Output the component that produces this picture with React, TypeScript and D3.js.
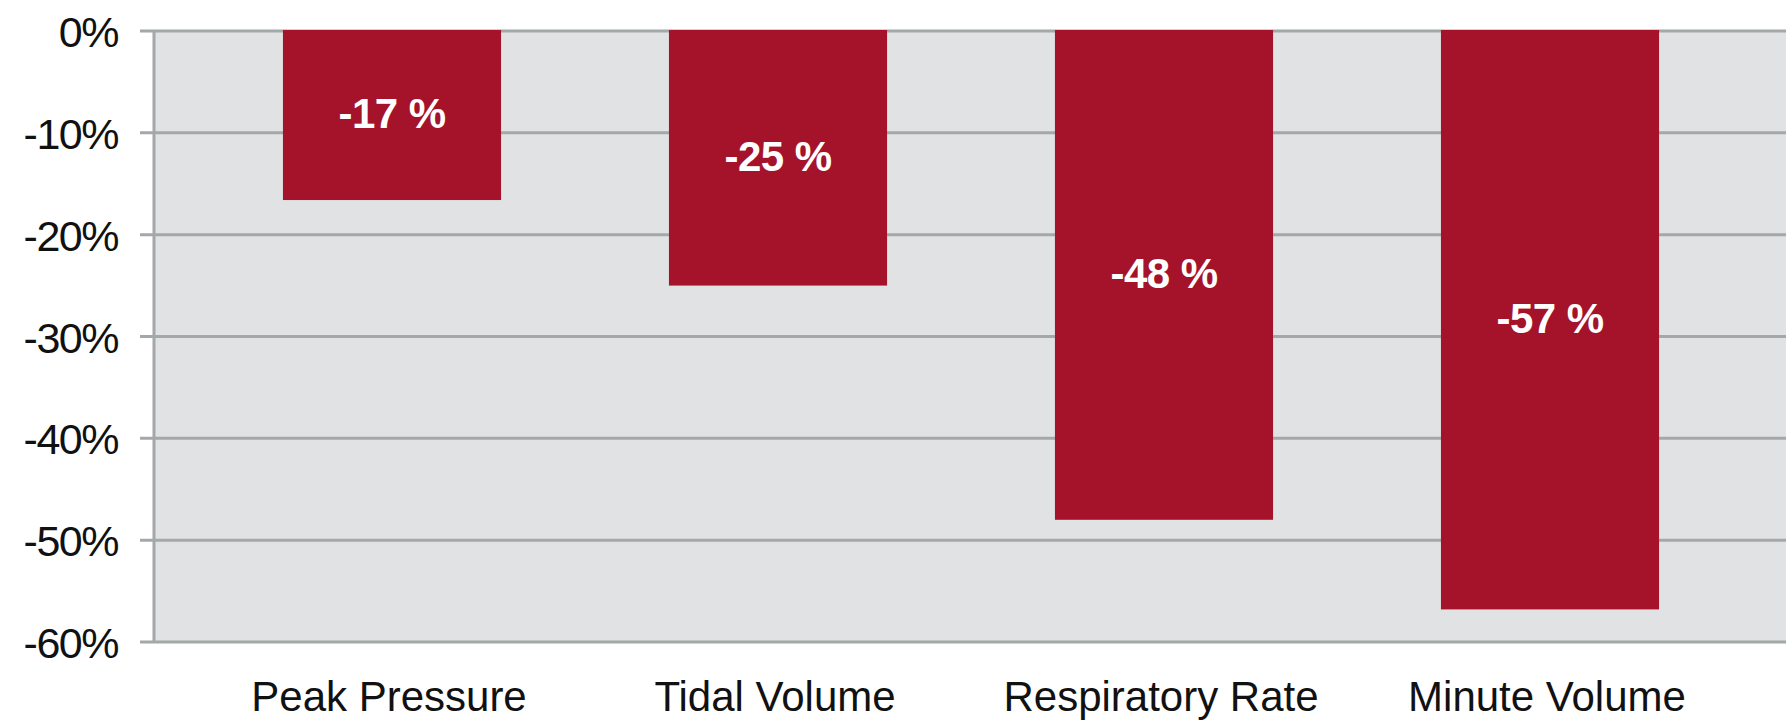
import React from "react";
import * as d3 from "d3";

const categories = ["Peak Pressure", "Tidal Volume", "Respiratory Rate", "Minute Volume"];
const values = [-16.6, -25, -48, -56.8];
const valueLabels = ["-17 %", "-25 %", "-48 %", "-57 %"];
const yTicks = [0, -10, -20, -30, -40, -50, -60];

const W = 1786;
const H = 721;
const FONT = "'Liberation Sans', Arial, Helvetica, sans-serif";

export default function App() {
  const axisX = 154;
  const y = d3.scaleLinear().domain([0, -60]).range([31, 642]);
  const x = d3
    .scaleBand<string>()
    .domain(categories)
    .range([199, 1743])
    .paddingInner(0.435)
    .paddingOuter(0.2175);

  return (
    <svg
      width={W}
      height={H}
      style={{ position: "absolute", left: 0, top: 0, background: "#fff" }}
    >
      <rect x={axisX} y={y(0)} width={W - axisX} height={y(-60) - y(0)} fill="#e1e2e3" />
      {yTicks.map((t) => (
        <g key={t}>
          <line x1={140} x2={W} y1={y(t)} y2={y(t)} stroke="#a3a8a8" strokeWidth={3} />
          <text
            x={118}
            y={y(t) + 1}
            textAnchor="end"
            dominantBaseline="central"
            fontFamily={FONT}
            fontSize={43}
            letterSpacing={-1.5}
            fill="#111"
          >
            {`${t}%`}
          </text>
        </g>
      ))}
      <line x1={axisX} x2={axisX} y1={y(0)} y2={y(-60)} stroke="#a3a8a8" strokeWidth={3} />
      {categories.map((c, i) => {
        const bx = x(c)!;
        const bw = x.bandwidth();
        const y0 = y(0);
        const y1 = y(values[i]);
        return (
          <g key={c}>
            <rect x={bx} y={y0 - 1} width={bw} height={y1 - y0 + 1} fill="#a5132b" />
            <text
              x={bx + bw / 2}
              y={(y0 + y1) / 2 - 2}
              textAnchor="middle"
              dominantBaseline="central"
              fontFamily={FONT}
              fontWeight="bold"
              fontSize={42}
              letterSpacing={-0.5}
              fill="#fff"
            >
              {valueLabels[i]}
            </text>
            <text
              x={bx + bw / 2 - 3}
              y={711}
              textAnchor="middle"
              fontFamily={FONT}
              fontSize={42}
              fill="#111"
            >
              {c}
            </text>
          </g>
        );
      })}
    </svg>
  );
}
